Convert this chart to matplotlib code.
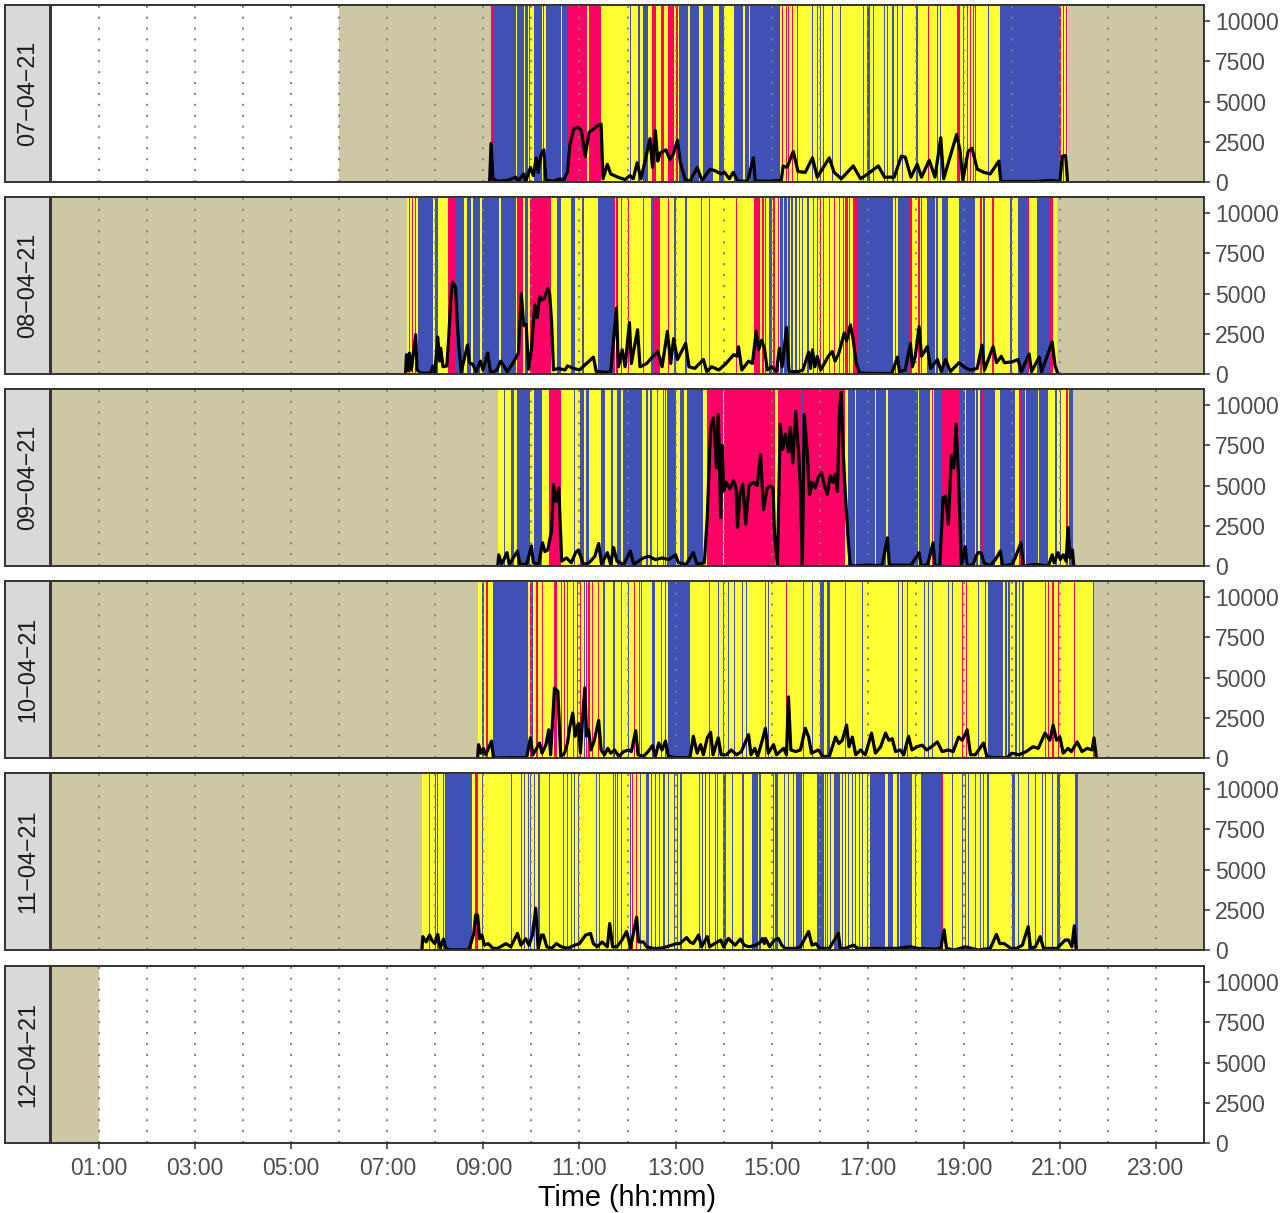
import matplotlib.pyplot as plt

plt.rcParams['font.family'] = ['Liberation Sans', 'DejaVu Sans']

# ---- data ----
days = ['07\u221204\u221221', '08\u221204\u221221', '09\u221204\u221221',
        '10\u221204\u221221', '11\u221204\u221221', '12\u221204\u221221']

# state change points (hour of day, state)
# N = no data, S = sleep / non-wear, Y = light, B = sedentary, R = active
states_0704 = [(0, 'N'), (6.0, 'S'), (9.15, 'R'), (9.21, 'B'), (9.67, 'Y'), (9.69, 'B'), (9.84, 'Y'), (9.86, 'B'),
    (9.92, 'Y'), (9.95, 'B'), (9.97, 'Y'), (10.05, 'B'), (10.11, 'R'), (10.14, 'B'), (10.21, 'Y'), (10.24, 'R'),
    (10.26, 'Y'), (10.30, 'B'), (10.61, 'Y'), (10.63, 'B'), (10.77, 'R'), (11.16, 'Y'), (11.19, 'R'), (11.44, 'Y'),
    (12.06, 'B'), (12.08, 'Y'), (12.21, 'B'), (12.25, 'Y'), (12.33, 'B'), (12.42, 'Y'), (12.50, 'R'), (12.60, 'Y'),
    (12.69, 'R'), (12.75, 'Y'), (12.85, 'R'), (12.96, 'Y'), (13.00, 'R'), (13.06, 'Y'), (13.08, 'R'), (13.10, 'B'),
    (13.25, 'Y'), (13.30, 'B'), (13.48, 'Y'), (13.58, 'B'), (13.79, 'Y'), (13.91, 'B'), (14.00, 'Y'), (14.21, 'B'),
    (14.41, 'Y'), (14.45, 'B'), (14.52, 'Y'), (14.56, 'B'), (15.18, 'Y'), (15.22, 'R'), (15.24, 'Y'), (15.29, 'R'),
    (15.31, 'Y'), (15.35, 'R'), (15.37, 'Y'), (15.43, 'R'), (15.45, 'Y'), (15.52, 'R'), (15.54, 'Y'), (15.81, 'R'),
    (15.83, 'Y'), (15.85, 'B'), (15.87, 'Y'), (15.95, 'B'), (15.97, 'Y'), (16.01, 'B'), (16.03, 'Y'), (16.06, 'B'),
    (16.08, 'Y'), (16.26, 'B'), (16.28, 'Y'), (16.33, 'B'), (16.35, 'Y'), (16.43, 'B'), (16.45, 'Y'), (16.85, 'B'),
    (16.87, 'Y'), (16.91, 'B'), (16.93, 'Y'), (16.99, 'B'), (17.05, 'Y'), (17.12, 'B'), (17.14, 'Y'), (17.33, 'B'),
    (17.35, 'Y'), (17.41, 'B'), (17.43, 'Y'), (17.51, 'B'), (17.55, 'Y'), (17.62, 'B'), (17.64, 'Y'), (17.72, 'B'),
    (17.74, 'Y'), (18.01, 'B'), (18.04, 'Y'), (18.26, 'R'), (18.28, 'Y'), (18.45, 'B'), (18.47, 'Y'), (18.51, 'B'),
    (18.53, 'Y'), (18.86, 'R'), (18.93, 'Y'), (18.99, 'B'), (19.01, 'Y'), (19.07, 'R'), (19.09, 'Y'), (19.13, 'R'),
    (19.15, 'Y'), (19.20, 'R'), (19.22, 'Y'), (19.24, 'R'), (19.26, 'Y'), (19.51, 'B'), (19.53, 'Y'), (19.76, 'B'),
    (21.01, 'R'), (21.03, 'Y'), (21.07, 'R'), (21.09, 'Y'), (21.13, 'R'), (21.15, 'Y'), (21.17, 'S')]

states_0804 = [(0, 'S'), (7.40, 'Y'), (7.45, 'R'), (7.47, 'Y'), (7.51, 'R'), (7.53, 'Y'), (7.57, 'R'), (7.59, 'Y'),
    (7.63, 'B'), (7.95, 'Y'), (7.99, 'B'), (8.05, 'Y'), (8.26, 'R'), (8.42, 'B'), (8.59, 'Y'), (8.65, 'B'),
    (8.74, 'Y'), (8.78, 'B'), (8.94, 'Y'), (8.97, 'B'), (9.32, 'Y'), (9.36, 'B'), (9.67, 'Y'), (9.71, 'R'),
    (9.82, 'Y'), (9.87, 'B'), (9.92, 'Y'), (9.98, 'R'), (10.40, 'Y'), (10.54, 'B'), (10.61, 'Y'), (10.82, 'B'),
    (10.90, 'Y'), (11.06, 'B'), (11.10, 'Y'), (11.38, 'B'), (11.71, 'R'), (11.75, 'Y'), (11.77, 'R'), (11.80, 'Y'),
    (11.86, 'R'), (11.88, 'Y'), (12.02, 'R'), (12.04, 'Y'), (12.33, 'R'), (12.35, 'Y'), (12.48, 'B'), (12.55, 'R'),
    (12.65, 'B'), (12.68, 'Y'), (12.75, 'R'), (12.77, 'Y'), (12.85, 'R'), (12.87, 'Y'), (12.96, 'B'), (13.00, 'Y'),
    (13.20, 'B'), (13.23, 'Y'), (13.52, 'B'), (13.55, 'Y'), (13.69, 'R'), (13.72, 'Y'), (14.25, 'R'), (14.27, 'Y'),
    (14.64, 'R'), (14.75, 'Y'), (14.81, 'R'), (14.85, 'Y'), (14.87, 'R'), (14.89, 'Y'), (14.95, 'B'), (15.00, 'Y'),
    (15.02, 'R'), (15.07, 'Y'), (15.14, 'R'), (15.16, 'Y'), (15.18, 'B'), (15.23, 'Y'), (15.25, 'B'), (15.33, 'Y'),
    (15.35, 'B'), (15.39, 'Y'), (15.41, 'B'), (15.45, 'Y'), (15.48, 'B'), (15.52, 'Y'), (15.56, 'B'), (15.60, 'Y'),
    (15.64, 'B'), (15.66, 'Y'), (15.74, 'B'), (15.77, 'Y'), (15.81, 'R'), (15.83, 'Y'), (15.87, 'B'), (15.89, 'Y'),
    (15.95, 'R'), (15.97, 'Y'), (16.01, 'R'), (16.03, 'Y'), (16.06, 'R'), (16.09, 'Y'), (16.20, 'R'), (16.22, 'Y'),
    (16.30, 'R'), (16.32, 'Y'), (16.40, 'R'), (16.42, 'Y'), (16.48, 'R'), (16.50, 'Y'), (16.53, 'R'), (16.58, 'Y'),
    (16.62, 'R'), (16.64, 'Y'), (16.70, 'R'), (16.80, 'B'), (17.53, 'Y'), (17.56, 'R'), (17.58, 'Y'), (17.64, 'B'),
    (17.85, 'R'), (17.93, 'Y'), (18.05, 'R'), (18.08, 'Y'), (18.11, 'R'), (18.14, 'Y'), (18.24, 'B'), (18.41, 'Y'),
    (18.43, 'B'), (18.47, 'Y'), (18.55, 'B'), (18.68, 'Y'), (18.89, 'B'), (19.24, 'Y'), (19.34, 'R'), (19.38, 'Y'),
    (19.41, 'B'), (19.45, 'Y'), (19.59, 'R'), (19.62, 'Y'), (19.97, 'B'), (20.00, 'Y'), (20.13, 'B'), (20.32, 'R'),
    (20.35, 'Y'), (20.53, 'B'), (20.80, 'R'), (20.86, 'Y'), (20.94, 'S')]

states_0904 = [(0, 'S'), (9.30, 'Y'), (9.42, 'B'), (9.44, 'Y'), (9.57, 'B'), (9.63, 'Y'), (9.71, 'B'), (9.98, 'Y'),
    (10.05, 'B'), (10.23, 'Y'), (10.36, 'R'), (10.61, 'Y'), (10.88, 'B'), (10.90, 'Y'), (10.96, 'B'), (10.98, 'Y'),
    (11.02, 'B'), (11.09, 'Y'), (11.13, 'B'), (11.19, 'Y'), (11.44, 'B'), (11.54, 'Y'), (11.65, 'B'), (11.69, 'Y'),
    (11.79, 'B'), (11.86, 'Y'), (11.90, 'B'), (12.31, 'Y'), (12.38, 'B'), (12.40, 'R'), (12.42, 'Y'), (12.46, 'B'),
    (12.50, 'Y'), (12.62, 'R'), (12.64, 'Y'), (12.73, 'R'), (12.75, 'Y'), (12.79, 'R'), (12.81, 'Y'), (12.83, 'R'),
    (12.85, 'B'), (12.90, 'R'), (12.92, 'B'), (13.00, 'Y'), (13.10, 'B'), (13.17, 'Y'), (13.23, 'B'), (13.58, 'Y'),
    (13.66, 'R'), (13.98, 'Y'), (14.00, 'R'), (15.08, 'Y'), (15.13, 'R'), (15.64, 'B'), (15.66, 'R'), (16.53, 'Y'),
    (16.58, 'B'), (16.74, 'Y'), (16.76, 'B'), (17.16, 'Y'), (17.18, 'B'), (17.37, 'R'), (17.39, 'Y'), (17.43, 'B'),
    (18.05, 'Y'), (18.07, 'B'), (18.30, 'Y'), (18.33, 'R'), (18.35, 'Y'), (18.39, 'B'), (18.55, 'R'), (18.93, 'B'),
    (19.03, 'Y'), (19.05, 'B'), (19.24, 'Y'), (19.26, 'B'), (19.30, 'Y'), (19.34, 'B'), (19.38, 'R'), (19.41, 'B'),
    (19.66, 'Y'), (19.76, 'B'), (20.07, 'Y'), (20.15, 'R'), (20.22, 'B'), (20.28, 'Y'), (20.30, 'B'), (20.55, 'Y'),
    (20.57, 'B'), (20.76, 'Y'), (20.90, 'B'), (20.93, 'Y'), (21.01, 'B'), (21.03, 'Y'), (21.12, 'R'), (21.17, 'Y'),
    (21.20, 'B'), (21.28, 'S')]

states_1004 = [(0, 'S'), (8.88, 'Y'), (8.98, 'B'), (9.02, 'Y'), (9.05, 'R'), (9.09, 'Y'), (9.19, 'B'), (9.92, 'Y'),
    (9.98, 'R'), (10.01, 'B'), (10.03, 'Y'), (10.09, 'R'), (10.11, 'B'), (10.13, 'Y'), (10.23, 'R'), (10.25, 'Y'),
    (10.46, 'R'), (10.53, 'Y'), (10.61, 'B'), (10.63, 'Y'), (10.67, 'R'), (10.69, 'Y'), (10.75, 'R'), (10.77, 'Y'),
    (10.86, 'R'), (10.88, 'Y'), (10.94, 'R'), (10.96, 'Y'), (11.02, 'R'), (11.04, 'Y'), (11.09, 'B'), (11.11, 'Y'),
    (11.13, 'R'), (11.15, 'Y'), (11.17, 'R'), (11.21, 'Y'), (11.27, 'R'), (11.29, 'Y'), (11.38, 'R'), (11.40, 'Y'),
    (11.50, 'B'), (11.54, 'Y'), (11.69, 'B'), (11.73, 'Y'), (11.86, 'B'), (11.88, 'Y'), (12.02, 'B'), (12.04, 'Y'),
    (12.13, 'R'), (12.15, 'Y'), (12.23, 'B'), (12.25, 'Y'), (12.29, 'B'), (12.31, 'Y'), (12.52, 'B'), (12.58, 'Y'),
    (12.69, 'B'), (12.71, 'Y'), (12.79, 'B'), (12.81, 'Y'), (12.85, 'B'), (13.31, 'Y'), (13.69, 'R'), (13.71, 'Y'),
    (13.89, 'B'), (13.91, 'Y'), (13.98, 'B'), (14.00, 'Y'), (14.10, 'B'), (14.12, 'Y'), (14.21, 'B'), (14.23, 'Y'),
    (14.39, 'B'), (14.41, 'Y'), (14.46, 'B'), (14.48, 'Y'), (14.87, 'R'), (14.89, 'Y'), (14.93, 'B'), (14.95, 'Y'),
    (15.29, 'R'), (15.31, 'Y'), (15.66, 'R'), (15.68, 'Y'), (15.85, 'B'), (15.87, 'Y'), (16.01, 'B'), (16.08, 'Y'),
    (16.16, 'B'), (16.22, 'Y'), (16.53, 'R'), (16.55, 'Y'), (16.89, 'B'), (16.91, 'Y'), (17.35, 'R'), (17.37, 'Y'),
    (17.64, 'B'), (17.66, 'Y'), (17.72, 'B'), (17.74, 'Y'), (17.82, 'R'), (17.84, 'Y'), (18.18, 'B'), (18.20, 'Y'),
    (18.26, 'B'), (18.28, 'Y'), (18.34, 'B'), (18.36, 'Y'), (18.68, 'B'), (18.70, 'Y'), (18.76, 'B'), (18.78, 'Y'),
    (18.89, 'R'), (18.91, 'Y'), (18.97, 'R'), (18.99, 'Y'), (19.05, 'R'), (19.07, 'Y'), (19.30, 'B'), (19.32, 'Y'),
    (19.45, 'B'), (19.47, 'Y'), (19.51, 'B'), (19.82, 'Y'), (19.86, 'B'), (19.89, 'Y'), (19.93, 'B'), (19.96, 'Y'),
    (20.07, 'B'), (20.10, 'Y'), (20.15, 'B'), (20.18, 'Y'), (20.22, 'B'), (20.25, 'Y'), (20.69, 'R'), (20.72, 'Y'),
    (20.76, 'R'), (20.78, 'Y'), (20.84, 'R'), (20.88, 'Y'), (20.96, 'R'), (20.98, 'Y'), (21.30, 'R'), (21.32, 'Y'),
    (21.68, 'R'), (21.72, 'S')]

states_1104 = [(0, 'S'), (7.72, 'Y'), (7.86, 'R'), (7.88, 'Y'), (7.99, 'R'), (8.01, 'Y'), (8.03, 'B'), (8.05, 'Y'),
    (8.15, 'B'), (8.17, 'Y'), (8.21, 'B'), (8.74, 'R'), (8.76, 'Y'), (8.82, 'R'), (8.88, 'Y'), (8.97, 'B'),
    (8.99, 'Y'), (9.57, 'B'), (9.59, 'Y'), (9.69, 'B'), (9.71, 'Y'), (9.78, 'B'), (9.80, 'Y'), (9.84, 'B'),
    (9.86, 'Y'), (9.92, 'B'), (9.94, 'Y'), (9.98, 'B'), (10.00, 'Y'), (10.05, 'B'), (10.07, 'Y'), (10.13, 'B'),
    (10.17, 'Y'), (10.21, 'R'), (10.23, 'Y'), (10.36, 'B'), (10.38, 'Y'), (10.65, 'B'), (10.67, 'Y'), (10.71, 'B'),
    (10.73, 'Y'), (10.75, 'B'), (10.77, 'Y'), (10.82, 'B'), (10.84, 'Y'), (10.88, 'B'), (10.90, 'Y'), (10.98, 'B'),
    (11.00, 'Y'), (11.34, 'B'), (11.36, 'Y'), (11.40, 'B'), (11.42, 'Y'), (11.48, 'B'), (11.50, 'Y'), (11.69, 'B'),
    (11.71, 'Y'), (11.75, 'B'), (11.77, 'Y'), (11.79, 'B'), (11.81, 'Y'), (11.86, 'B'), (11.88, 'Y'), (12.00, 'R'),
    (12.02, 'Y'), (12.06, 'B'), (12.08, 'Y'), (12.10, 'R'), (12.12, 'Y'), (12.17, 'R'), (12.19, 'Y'), (12.27, 'B'),
    (12.29, 'Y'), (12.38, 'B'), (12.44, 'Y'), (12.48, 'B'), (12.50, 'Y'), (12.58, 'B'), (12.60, 'Y'), (12.65, 'B'),
    (12.67, 'Y'), (12.73, 'B'), (12.79, 'Y'), (12.85, 'B'), (12.87, 'Y'), (12.96, 'B'), (12.98, 'Y'), (13.04, 'B'),
    (13.06, 'Y'), (13.10, 'B'), (13.13, 'Y'), (13.48, 'B'), (13.50, 'Y'), (13.56, 'B'), (13.58, 'Y'), (13.62, 'B'),
    (13.64, 'Y'), (13.69, 'B'), (13.71, 'Y'), (13.77, 'B'), (13.79, 'Y'), (13.83, 'B'), (13.85, 'Y'), (13.87, 'B'),
    (13.89, 'Y'), (13.98, 'B'), (14.04, 'Y'), (14.18, 'B'), (14.20, 'Y'), (14.29, 'B'), (14.31, 'Y'), (14.39, 'B'),
    (14.43, 'Y'), (14.60, 'B'), (14.71, 'Y'), (14.73, 'B'), (14.77, 'Y'), (15.02, 'B'), (15.04, 'Y'), (15.08, 'B'),
    (15.14, 'Y'), (15.25, 'B'), (15.27, 'Y'), (15.35, 'B'), (15.37, 'Y'), (15.45, 'B'), (15.47, 'Y'), (15.50, 'B'),
    (15.64, 'Y'), (15.66, 'B'), (15.68, 'Y'), (15.95, 'B'), (16.08, 'Y'), (16.12, 'B'), (16.14, 'Y'), (16.16, 'B'),
    (16.18, 'Y'), (16.22, 'B'), (16.24, 'Y'), (16.29, 'B'), (16.43, 'Y'), (16.47, 'B'), (16.49, 'Y'), (16.53, 'B'),
    (16.55, 'Y'), (16.60, 'B'), (16.62, 'Y'), (16.68, 'B'), (16.70, 'Y'), (16.74, 'B'), (16.76, 'Y'), (16.81, 'B'),
    (16.83, 'Y'), (16.89, 'B'), (16.91, 'Y'), (16.99, 'B'), (17.01, 'Y'), (17.05, 'B'), (17.37, 'Y'), (17.43, 'B'),
    (17.53, 'Y'), (17.60, 'B'), (17.66, 'Y'), (17.68, 'B'), (17.93, 'Y'), (17.99, 'B'), (18.01, 'Y'), (18.10, 'B'),
    (18.55, 'R'), (18.57, 'Y'), (18.76, 'B'), (18.78, 'Y'), (18.89, 'B'), (18.91, 'Y'), (18.97, 'B'), (18.99, 'Y'),
    (19.03, 'B'), (19.05, 'Y'), (19.09, 'B'), (19.11, 'Y'), (19.24, 'B'), (19.26, 'Y'), (19.34, 'B'), (19.36, 'Y'),
    (19.41, 'B'), (19.43, 'Y'), (19.49, 'B'), (19.53, 'Y'), (20.01, 'B'), (20.07, 'Y'), (20.13, 'B'), (20.15, 'Y'),
    (20.34, 'B'), (20.36, 'Y'), (20.49, 'B'), (20.51, 'Y'), (20.63, 'B'), (20.65, 'Y'), (20.69, 'B'), (20.71, 'Y'),
    (20.84, 'B'), (20.86, 'Y'), (20.94, 'B'), (21.01, 'Y'), (21.32, 'B'), (21.38, 'S')]

states_1204 = [(0, 'S'), (1.0, 'N')]

# activity counts (hour of day, counts)
counts_0704 = [(9.13, 0), (9.16, 2400), (9.20, 200), (9.30, 50), (9.50, 100), (9.68, 300), (9.72, 50), (9.84, 500),
    (9.88, 50), (9.98, 900), (10.04, 400), (10.10, 1500), (10.14, 600), (10.20, 1700), (10.26, 2000), (10.30, 100),
    (10.45, 50), (10.61, 200), (10.66, 50), (10.75, 600), (10.80, 2300), (10.88, 3300), (10.97, 3400), (11.04, 3200),
    (11.12, 1600), (11.20, 3100), (11.30, 3300), (11.40, 3550), (11.45, 3600), (11.49, 200), (11.58, 1100),
    (11.65, 500), (11.80, 300), (11.95, 150), (12.05, 400), (12.12, 200), (12.20, 1200), (12.28, 200), (12.38, 1500),
    (12.47, 2700), (12.52, 900), (12.58, 3200), (12.63, 1300), (12.68, 1800), (12.80, 2000), (12.88, 1400),
    (12.95, 1700), (13.04, 2600), (13.10, 1200), (13.20, 150), (13.30, 50), (13.45, 900), (13.55, 100), (13.72, 800),
    (13.82, 700), (13.95, 500), (14.02, 600), (14.12, 200), (14.20, 600), (14.30, 50), (14.50, 50), (14.62, 1500),
    (14.66, 50), (15.00, 50), (15.20, 100), (15.24, 1000), (15.32, 900), (15.45, 1900), (15.55, 650), (15.70, 600),
    (15.85, 1500), (15.95, 300), (16.20, 1500), (16.30, 600), (16.45, 200), (16.70, 1000), (16.85, 200), (17.00, 500),
    (17.22, 1000), (17.35, 300), (17.55, 300), (17.70, 1600), (17.78, 1550), (17.90, 300), (18.03, 1100),
    (18.12, 300), (18.28, 1350), (18.40, 300), (18.52, 2750), (18.58, 200), (18.85, 2950), (18.92, 2000),
    (18.98, 100), (19.09, 1900), (19.17, 2100), (19.28, 800), (19.42, 600), (19.55, 500), (19.73, 1300), (19.77, 30),
    (20.50, 30), (20.80, 100), (21.00, 30), (21.05, 1600), (21.12, 1650), (21.16, 0)]

counts_0804 = [(7.38, 0), (7.40, 1200), (7.44, 200), (7.46, 1300), (7.50, 250), (7.59, 2450), (7.62, 250),
    (7.70, 50), (7.90, 50), (7.95, 500), (7.99, 100), (8.05, 2300), (8.09, 800), (8.11, 1600), (8.16, 450),
    (8.24, 500), (8.28, 2300), (8.32, 4600), (8.36, 5700), (8.42, 5400), (8.46, 3000), (8.50, 1300), (8.54, 150),
    (8.67, 1800), (8.71, 700), (8.78, 600), (8.85, 150), (8.94, 800), (8.99, 250), (9.09, 1300), (9.15, 60),
    (9.28, 250), (9.36, 800), (9.50, 150), (9.60, 600), (9.73, 1300), (9.79, 5000), (9.84, 3000), (9.89, 3100),
    (9.94, 300), (10.00, 1500), (10.07, 4300), (10.12, 3500), (10.17, 4800), (10.22, 4600), (10.27, 4700),
    (10.34, 5300), (10.38, 5000), (10.42, 3200), (10.46, 250), (10.55, 350), (10.70, 250), (10.75, 500),
    (10.88, 350), (11.00, 250), (11.29, 1050), (11.35, 150), (11.55, 100), (11.65, 150), (11.77, 4100),
    (11.81, 450), (11.89, 1500), (11.95, 450), (12.04, 3200), (12.08, 650), (12.21, 2750), (12.26, 450),
    (12.40, 650), (12.50, 1000), (12.63, 1400), (12.72, 450), (12.83, 2650), (12.90, 650), (12.96, 2200),
    (13.04, 900), (13.21, 1900), (13.28, 450), (13.40, 350), (13.58, 900), (13.65, 150), (13.75, 450), (13.90, 250),
    (14.05, 650), (14.21, 1200), (14.28, 1100), (14.31, 1700), (14.38, 250), (14.52, 800), (14.60, 650),
    (14.68, 2650), (14.73, 1500), (14.79, 2100), (14.85, 1600), (14.91, 250), (15.00, 450), (15.10, 150),
    (15.16, 1600), (15.22, 450), (15.31, 2900), (15.36, 150), (15.55, 150), (15.65, 250), (15.77, 1350),
    (15.81, 350), (15.85, 1500), (15.90, 450), (15.95, 1100), (16.02, 250), (16.18, 1100), (16.26, 1400),
    (16.32, 800), (16.40, 1300), (16.51, 2550), (16.56, 2050), (16.64, 3050), (16.70, 2100), (16.76, 700),
    (16.83, 50), (17.20, 30), (17.50, 30), (17.62, 1050), (17.66, 150), (17.78, 250), (17.89, 1900), (17.93, 450),
    (17.99, 1100), (18.07, 2950), (18.12, 1100), (18.24, 1700), (18.31, 350), (18.45, 900), (18.53, 150),
    (18.62, 900), (18.72, 150), (18.90, 700), (19.05, 350), (19.15, 250), (19.28, 350), (19.38, 1800), (19.43, 250),
    (19.61, 1700), (19.68, 700), (19.78, 1100), (19.85, 700), (20.00, 750), (20.13, 900), (20.20, 150),
    (20.36, 1250), (20.41, 150), (20.57, 1050), (20.62, 150), (20.84, 2000), (20.90, 500), (20.96, 0)]

counts_0904 = [(9.30, 0), (9.32, 700), (9.38, 100), (9.49, 830), (9.54, 100), (9.71, 930), (9.76, 100), (9.90, 100),
    (10.00, 1250), (10.04, 200), (10.15, 100), (10.23, 1450), (10.28, 900), (10.34, 1000), (10.42, 2200),
    (10.46, 5050), (10.51, 4000), (10.57, 4850), (10.60, 2600), (10.63, 300), (10.73, 500), (10.83, 200),
    (10.92, 830), (10.98, 1000), (11.08, 100), (11.20, 200), (11.32, 600), (11.40, 1400), (11.46, 100), (11.58, 830),
    (11.65, 100), (11.71, 1150), (11.78, 300), (11.92, 100), (12.06, 930), (12.13, 100), (12.33, 500), (12.44, 600),
    (12.58, 400), (12.72, 500), (12.86, 400), (13.00, 700), (13.06, 200), (13.22, 100), (13.37, 830), (13.45, 100),
    (13.60, 200), (13.66, 3000), (13.73, 8600), (13.79, 9200), (13.85, 6100), (13.89, 9400), (13.94, 3000),
    (13.97, 7500), (14.00, 4650), (14.06, 5200), (14.13, 4800), (14.21, 5300), (14.26, 4850), (14.29, 2400),
    (14.34, 4450), (14.40, 5100), (14.46, 2600), (14.53, 5000), (14.63, 5200), (14.70, 5000), (14.77, 6900),
    (14.83, 3500), (14.91, 4850), (14.97, 4950), (15.03, 4850), (15.06, 2000), (15.12, 0), (15.18, 8800),
    (15.23, 7250), (15.29, 8200), (15.35, 7100), (15.39, 8600), (15.44, 6400), (15.50, 9600), (15.56, 7100),
    (15.60, 4850), (15.64, 0), (15.68, 9400), (15.74, 7100), (15.79, 4450), (15.85, 5200), (15.91, 4850),
    (15.97, 5500), (16.04, 5800), (16.10, 5000), (16.16, 4450), (16.22, 5600), (16.28, 5200), (16.32, 5700),
    (16.37, 4650), (16.41, 9600), (16.45, 10800), (16.49, 7100), (16.53, 4650), (16.60, 1350), (16.64, 0),
    (17.00, 50), (17.30, 30), (17.41, 1750), (17.45, 50), (17.90, 50), (18.07, 830), (18.11, 0), (18.25, 100),
    (18.36, 1450), (18.40, 0), (18.50, 0), (18.57, 4250), (18.62, 4350), (18.68, 2600), (18.74, 6850),
    (18.79, 6100), (18.84, 8800), (18.89, 5450), (18.95, 0), (19.03, 1200), (19.07, 0), (19.20, 100), (19.25, 600),
    (19.30, 830), (19.36, 830), (19.42, 200), (19.55, 0), (19.68, 500), (19.76, 930), (19.81, 0), (20.00, 100),
    (20.07, 500), (20.19, 1450), (20.24, 0), (20.50, 100), (20.76, 0), (20.84, 700), (20.88, 200), (20.96, 830),
    (21.01, 400), (21.07, 700), (21.13, 300), (21.17, 2400), (21.21, 500), (21.26, 1000), (21.29, 0)]

counts_1004 = [(8.88, 0), (8.90, 830), (8.95, 300), (9.00, 600), (9.05, 200), (9.17, 1050), (9.21, 0), (9.60, 20),
    (9.90, 20), (9.98, 1250), (10.03, 200), (10.17, 930), (10.22, 300), (10.30, 800), (10.36, 1750), (10.40, 200),
    (10.48, 4350), (10.55, 4150), (10.61, 100), (10.69, 300), (10.75, 930), (10.80, 1950), (10.86, 2800),
    (10.91, 1350), (10.94, 1850), (10.98, 2150), (11.02, 300), (11.06, 2250), (11.11, 4350), (11.15, 1350),
    (11.19, 1750), (11.24, 500), (11.31, 1100), (11.40, 2350), (11.45, 500), (11.52, 200), (11.59, 600),
    (11.65, 300), (11.73, 500), (11.82, 100), (11.92, 400), (12.02, 500), (12.08, 400), (12.17, 1700), (12.22, 200),
    (12.33, 100), (12.43, 400), (12.52, 770), (12.58, 100), (12.65, 930), (12.72, 500), (12.79, 1050), (12.85, 100),
    (13.00, 20), (13.30, 20), (13.37, 1350), (13.45, 300), (13.52, 830), (13.58, 200), (13.66, 1250), (13.73, 1600),
    (13.78, 200), (13.89, 1250), (13.95, 200), (14.06, 200), (14.16, 500), (14.27, 200), (14.37, 400), (14.52, 1450),
    (14.57, 200), (14.65, 600), (14.71, 100), (14.81, 1150), (14.87, 1850), (14.93, 300), (15.04, 830), (15.10, 200),
    (15.25, 600), (15.31, 200), (15.35, 3800), (15.40, 500), (15.50, 400), (15.60, 500), (15.70, 1850),
    (15.77, 1300), (15.83, 300), (15.97, 500), (16.07, 100), (16.20, 100), (16.33, 1300), (16.40, 900),
    (16.47, 1100), (16.56, 2050), (16.61, 700), (16.68, 1300), (16.75, 200), (16.85, 500), (16.95, 200),
    (17.08, 1550), (17.16, 300), (17.27, 700), (17.37, 1550), (17.44, 1100), (17.51, 1200), (17.58, 400),
    (17.68, 500), (17.75, 200), (17.85, 1350), (17.92, 500), (18.03, 700), (18.13, 800), (18.23, 500), (18.33, 700),
    (18.45, 1000), (18.55, 400), (18.68, 500), (18.78, 400), (18.89, 1300), (18.97, 1100), (19.07, 1750),
    (19.14, 200), (19.24, 200), (19.41, 930), (19.48, 100), (19.60, 20), (19.90, 20), (20.00, 300), (20.15, 200),
    (20.30, 400), (20.44, 700), (20.55, 600), (20.69, 1550), (20.79, 1100), (20.86, 2050), (20.93, 1100),
    (21.00, 1300), (21.07, 300), (21.17, 600), (21.24, 400), (21.36, 1000), (21.46, 400), (21.57, 600),
    (21.67, 500), (21.71, 1250), (21.76, 0)]

counts_1104 = [(7.72, 0), (7.74, 830), (7.81, 500), (7.88, 930), (7.93, 600), (7.99, 400), (8.05, 970), (8.10, 100),
    (8.17, 680), (8.22, 100), (8.30, 10), (8.70, 10), (8.80, 1030), (8.84, 2170), (8.88, 2170), (8.92, 700),
    (8.97, 930), (9.02, 300), (9.10, 400), (9.20, 100), (9.30, 100), (9.47, 400), (9.57, 200), (9.71, 1030),
    (9.78, 300), (9.88, 700), (9.95, 300), (10.02, 930), (10.09, 2600), (10.14, 100), (10.21, 930), (10.25, 930),
    (10.32, 200), (10.42, 100), (10.52, 400), (10.62, 200), (10.76, 100), (10.90, 300), (11.00, 400), (11.13, 930),
    (11.23, 1030), (11.29, 400), (11.37, 200), (11.47, 500), (11.58, 200), (11.63, 1650), (11.69, 200),
    (11.78, 200), (11.88, 600), (11.98, 1150), (12.02, 700), (12.06, 100), (12.19, 2050), (12.23, 500),
    (12.33, 500), (12.40, 200), (12.54, 100), (12.68, 100), (12.81, 200), (12.92, 300), (13.02, 400), (13.09, 400),
    (13.23, 770), (13.30, 500), (13.37, 400), (13.48, 930), (13.54, 200), (13.66, 830), (13.71, 200), (13.81, 400),
    (13.94, 620), (14.00, 200), (14.10, 720), (14.17, 500), (14.24, 300), (14.35, 680), (14.43, 300), (14.53, 200),
    (14.67, 300), (14.77, 500), (14.81, 720), (14.85, 400), (14.87, 720), (14.96, 200), (15.05, 600), (15.14, 720),
    (15.21, 300), (15.28, 100), (15.50, 100), (15.60, 200), (15.69, 700), (15.77, 1150), (15.84, 300), (15.92, 400),
    (16.00, 100), (16.20, 100), (16.39, 1030), (16.43, 100), (16.53, 100), (16.70, 300), (16.80, 100),
    (17.20, 100), (17.60, 100), (17.90, 200), (18.05, 100), (18.40, 50), (18.52, 100), (18.59, 1250), (18.64, 100),
    (18.80, 0), (19.03, 200), (19.30, 0), (19.55, 100), (19.68, 970), (19.75, 400), (19.84, 400), (19.98, 100),
    (20.10, 100), (20.22, 300), (20.34, 1450), (20.39, 100), (20.49, 200), (20.59, 830), (20.66, 100),
    (20.80, 100), (20.94, 100), (21.11, 620), (21.18, 620), (21.25, 200), (21.30, 1500), (21.34, 0)]

counts_1204 = []

all_states = [states_0704, states_0804, states_0904, states_1004, states_1104, states_1204]
all_counts = [counts_0704, counts_0804, counts_0904, counts_1004, counts_1104, counts_1204]

state_colors = {'S': '#CDC7A4', 'Y': '#FFFF33', 'B': '#3F51B5', 'R': '#FF0066'}

major_hours = list(range(1, 24, 2))
minor_hours = list(range(2, 24, 2))
hour_labels = ['%02d:00' % h for h in major_hours]
y_ticks = [0, 2500, 5000, 7500, 10000]

# ---- figure ----
W, H = 1286, 1213
fig = plt.figure(figsize=(W / 100, H / 100), dpi=100)

panel_top = [5, 197, 389, 581, 773, 966]
panel_h = 177
dark = '#333333'

for i, day in enumerate(days):
    bottom = 1 - (panel_top[i] + panel_h) / H
    ax = fig.add_axes([51 / W, bottom, 1153 / W, panel_h / H])
    ax.set_facecolor('white')

    seg = all_states[i]
    starts = [s[0] for s in seg]
    ends = starts[1:] + [24]
    xs, ws, cs = [], [], []
    for st, en, (_, code) in zip(starts, ends, seg):
        if code == 'N':
            continue
        xs.append(st)
        ws.append(en - st)
        cs.append(state_colors[code])
    ax.bar(xs, [11000] * len(xs), width=ws, align='edge', color=cs, linewidth=0, zorder=1)

    if all_counts[i]:
        t = [p[0] for p in all_counts[i]]
        v = [p[1] for p in all_counts[i]]
        ax.plot(t, v, color='black', lw=2.3, solid_joinstyle='round', zorder=3)

    ax.set_xlim(0, 24)
    ax.set_ylim(0, 11000)
    ax.set_axisbelow(False)
    ax.set_xticks(major_hours)
    ax.set_xticks(minor_hours, minor=True)
    ax.grid(which='both', axis='x', color='#7F7F7F', linestyle=(0, (1, 4.6)), linewidth=1.4, zorder=2)
    ax.grid(False, axis='y')

    ax.yaxis.tick_right()
    ax.set_yticks(y_ticks)
    ax.set_yticklabels([str(v) for v in y_ticks])
    ax.tick_params(axis='y', which='major', length=4, width=1.1, color=dark,
                   labelsize=16.5, labelcolor='#4D4D4D', pad=4)
    ax.tick_params(axis='x', which='minor', length=0)
    if i == len(days) - 1:
        ax.set_xticklabels(hour_labels)
        ax.tick_params(axis='x', which='major', length=4, width=1.1, color=dark,
                       labelsize=16.5, labelcolor='#4D4D4D', pad=6)
    else:
        ax.tick_params(axis='x', which='major', length=0, labelbottom=False)

    for sp in ax.spines.values():
        sp.set_color(dark)
        sp.set_linewidth(1.4)
        sp.set_zorder(4)

    # facet strip on the left
    sx = fig.add_axes([5 / W, bottom, 45 / W, panel_h / H])
    sx.set_facecolor('#D9D9D9')
    sx.set_xticks([])
    sx.set_yticks([])
    for sp in sx.spines.values():
        sp.set_color(dark)
        sp.set_linewidth(1.4)
    sx.text(0.5, 0.5, day, rotation=90, ha='center', va='center',
            fontsize=16.8, color='#1A1A1A', transform=sx.transAxes)

fig.text(627 / W, 1 - 1198 / H, 'Time (hh:mm)', ha='center', va='center', fontsize=20.8, color='black')

fig.savefig('out.png', dpi=100)
